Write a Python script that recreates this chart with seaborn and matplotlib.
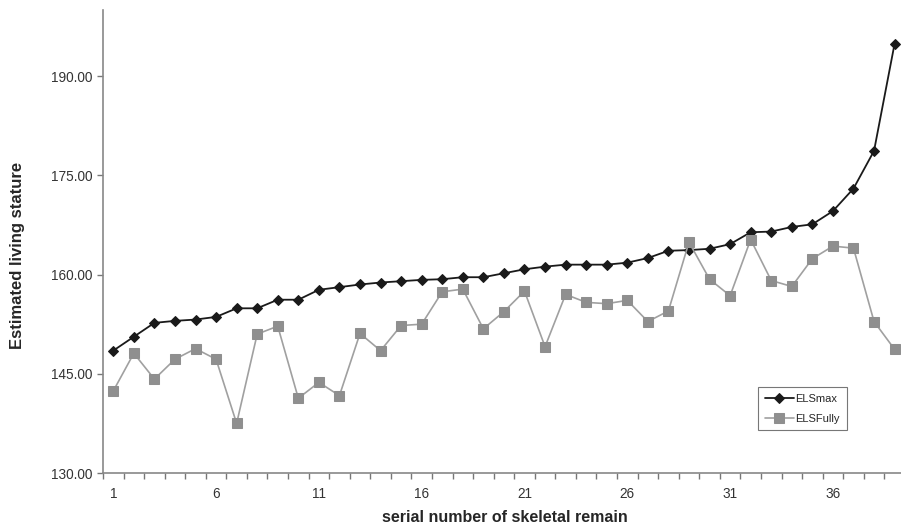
import pandas as pd
import seaborn as sns
import matplotlib.pyplot as plt

serial = list(range(1, 40))
els_max = [148.5, 150.6, 152.7, 153.0, 153.2, 153.6, 154.9, 154.9, 156.2, 156.2,
           157.7, 158.1, 158.5, 158.8, 159.0, 159.2, 159.3, 159.6, 159.6, 160.2,
           160.8, 161.2, 161.5, 161.5, 161.5, 161.8, 162.5, 163.6, 163.7, 163.9,
           164.6, 166.4, 166.5, 167.2, 167.6, 169.6, 173.0, 178.7, 194.9]
els_fully = [142.4, 148.1, 144.2, 147.2, 148.8, 147.2, 137.5, 151.0, 152.2, 141.3,
             143.7, 141.7, 151.1, 148.5, 152.3, 152.5, 157.4, 157.8, 151.8, 154.4,
             157.5, 149.1, 157.0, 155.8, 155.6, 156.1, 152.9, 154.5, 164.9, 159.3,
             156.8, 165.3, 159.1, 158.2, 162.4, 164.3, 164.0, 152.9, 148.7]
y_ticks = [130, 145, 160, 175, 190]
x_labels = [1, 6, 11, 16, 21, 26, 31, 36]

df = pd.DataFrame({'serial': serial, 'ELSmax': els_max, 'ELSFully': els_fully})

sns.set_style('ticks')
plt.rcParams['font.family'] = ['Liberation Sans', 'DejaVu Sans']

fig = plt.figure(figsize=(9.01, 5.31), dpi=100)
ax = fig.add_axes([0.1143, 0.1092, 0.890, 0.872])

sns.lineplot(data=df, x='serial', y='ELSmax', ax=ax, color='#1a1a1a', lw=1.3,
             marker='D', markersize=5.5, markeredgecolor='#1a1a1a', label='ELSmax')
sns.lineplot(data=df, x='serial', y='ELSFully', ax=ax, color='#a0a0a0', lw=1.2,
             marker='s', markersize=6.5, markerfacecolor='#8f8f8f',
             markeredgecolor='#8f8f8f', label='ELSFully')

ax.set_xlim(0.5, 39.5)
ax.set_ylim(130, 200)
ax.set_yticks(y_ticks)
ax.set_yticklabels([f'{v:.2f}' for v in y_ticks])
ax.set_xticks([s + 0.5 for s in range(0, 40)], minor=True)
ax.set_xticks(x_labels)
ax.tick_params(axis='x', which='major', length=0, pad=10)
ax.tick_params(axis='x', which='minor', length=4, color='#777777', width=1)
ax.tick_params(axis='y', length=4, color='#777777', width=1)
ax.tick_params(labelsize=9.8, labelcolor='#333333')

for side in ['top', 'right']:
    ax.spines[side].set_visible(False)
for side in ['left', 'bottom']:
    ax.spines[side].set_color('#888888')
    ax.spines[side].set_linewidth(1.2)

ax.set_xlabel('serial number of skeletal remain', fontsize=11.5, fontweight='bold')
ax.set_ylabel('Estimated living stature', fontsize=12, fontweight='bold')
ax.xaxis.set_label_coords(0.501, -0.097)
ax.yaxis.set_label_coords(-0.107, 0.469)
ax.xaxis.label.set_va('center')
ax.yaxis.label.set_va('center')

leg = ax.legend(loc='upper left', bbox_to_anchor=(0.817, 0.186), fontsize=8,
                frameon=True, fancybox=False, edgecolor='#555555',
                handlelength=2.6, handletextpad=0.15, borderpad=0.6,
                labelspacing=0.9, borderaxespad=0)
leg.get_frame().set_linewidth(0.8)

fig.savefig('out.png', dpi=100)
